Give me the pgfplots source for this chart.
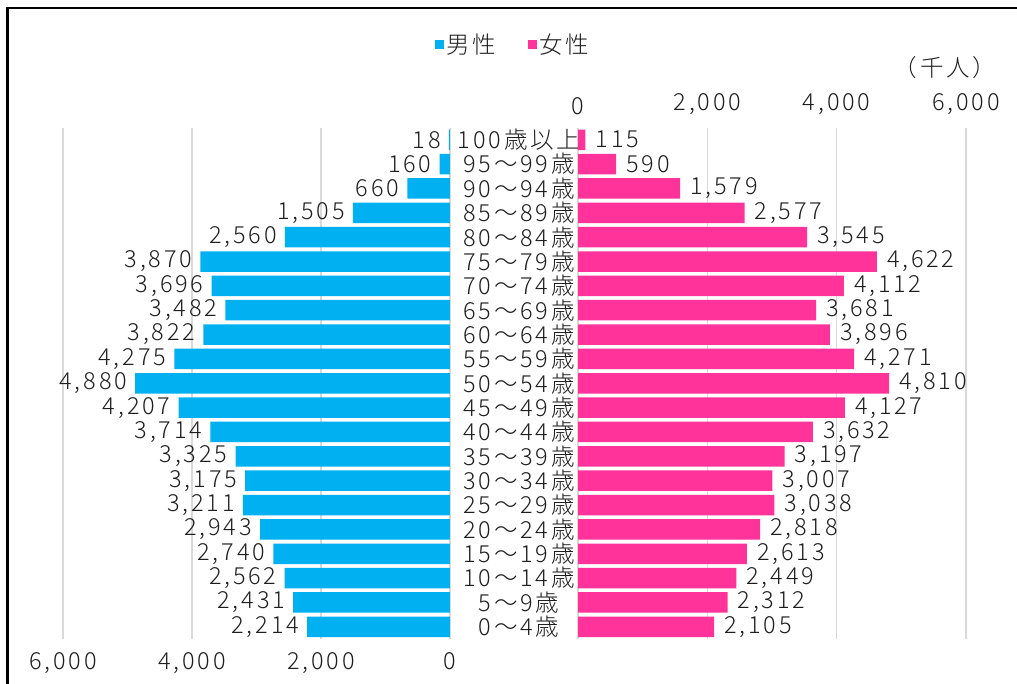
\documentclass[border=0pt]{standalone}
\usepackage{pgfplots}
\pgfplotsset{compat=1.18}
\usepackage{pgfplotstable}
\usepackage{fontspec}
\setmainfont{Noto Sans CJK JP}[UprightFont=* Light, LetterSpace=12]
\definecolor{maleblue}{RGB}{0,176,240}
\definecolor{femalepink}{RGB}{255,51,153}
\definecolor{gridgray}{RGB}{217,217,217}
\definecolor{txt}{RGB}{30,30,30}
\newcommand{\fs}{\fontsize{23.5}{27}\selectfont}

\pgfplotstableread{
y male female
0 2214 2105
1 2431 2312
2 2562 2449
3 2740 2613
4 2943 2818
5 3211 3038
6 3175 3007
7 3325 3197
8 3714 3632
9 4207 4127
10 4880 4810
11 4275 4271
12 3822 3896
13 3482 3681
14 3696 4112
15 3870 4622
16 2560 3545
17 1505 2577
18 660 1579
19 160 590
20 18 115
}\data

\begin{document}
\begin{tikzpicture}
\path[use as bounding box] (0,0) rectangle (1017pt,684pt);
\draw[line width=2.5pt] (7.5pt,-2pt) -- (7.5pt,676pt) -- (1020pt,676pt);
\pgfplotsset{
  common/.style={
    scale only axis, height=511.4pt,
    xmin=0, xmax=6000, ymin=-0.5, ymax=20.5,
    xbar, bar width=20.5pt, bar shift=0pt,
    xtick={0,2000,4000,6000},
    xmajorgrids, major grid style={gridgray, line width=1.5pt},
    axis line style={draw=none},
    major tick length=0pt,
    ytick=\empty,
    clip=false,
    /pgf/number format/.cd, 1000 sep={,}, assume math mode=true, /pgfplots/.cd,
    tick label style={font=\fs, text=txt},
    point meta=x,
    nodes near coords,
    every node near coord/.append style={font=\fs, text=txt, inner sep=2pt},
  }
}
\begin{axis}[common, at={(63pt,45pt)}, anchor=south west, width=387pt, x dir=reverse,
  every node near coord/.append style={anchor=east, xshift=-6pt},
  xticklabel style={yshift=-10pt}]
\addplot[fill=maleblue, draw=none] table[x=male, y=y] {\data};
\end{axis}
\begin{axis}[common, at={(578pt,45pt)}, anchor=south west, width=388pt,
  xticklabel pos=right, xticklabel style={yshift=9pt},
  every node near coord/.append style={anchor=west, xshift=8pt},
  ytick={0,...,20},
  yticklabels={0〜4歳,5〜9歳,10〜14歳,15〜19歳,20〜24歳,25〜29歳,30〜34歳,35〜39歳,40〜44歳,45〜49歳,50〜54歳,55〜59歳,60〜64歳,65〜69歳,70〜74歳,75〜79歳,80〜84歳,85〜89歳,90〜94歳,95〜99歳,100歳以上},
  yticklabel style={anchor=center, xshift=-59pt, font=\fs, text=txt},
  legend style={draw=none, fill=none, at={(axis description cs:-0.1675,1.162)}, anchor=center,
    font=\fs, text=txt, /tikz/every even column/.append style={column sep=30pt}},
  legend columns=2,
  legend image code/.code={\fill[#1] (0pt,-4.5pt) rectangle (9pt,4.5pt);}]
\addlegendimage{fill=maleblue, draw=none}
\addlegendentry{男性}
\addplot[fill=femalepink, draw=none] table[x=female, y=y] {\data};
\addlegendentry{女性}
\node[font=\fs, text=txt] at (axis description cs:0.946,1.117) {（千人）};
\end{axis}
\end{tikzpicture}
\end{document}
